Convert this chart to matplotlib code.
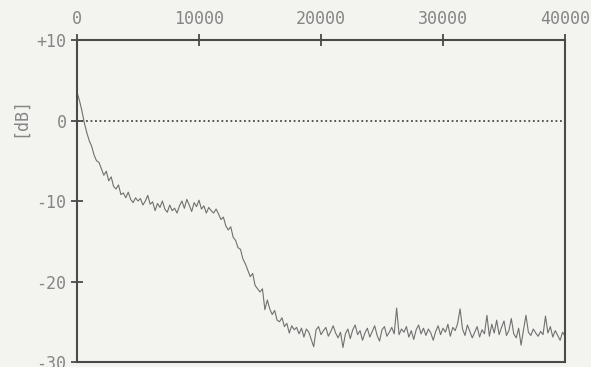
import matplotlib.pyplot as plt
import numpy as np

# frequency response, one value every 200 Hz from 0 to 40000
freq_step = 200
freq_max = 40000
level_db = [
    3.5, 2.5, 1.2, -0.3, -1.5, -2.5, -3.2, -4.3, -5.0, -5.2,
    -6.0, -6.8, -6.3, -7.5, -7.0, -8.2, -8.5, -8.0, -9.2, -9.0,
    -9.6, -8.9, -9.8, -10.2, -9.6, -10.0, -9.7, -10.5, -10.0, -9.3,
    -10.4, -10.1, -11.2, -10.3, -10.8, -10.0, -11.0, -11.4, -10.5, -11.2,
    -10.9, -11.5, -10.6, -10.0, -10.9, -9.8, -10.5, -11.3, -10.2, -10.7,
    -9.9, -11.0, -10.6, -11.5, -10.8, -11.2, -11.5, -11.0, -11.6, -12.3,
    -12.0, -13.1, -13.6, -13.2, -14.5, -14.9, -15.8, -16.0, -17.2, -17.8,
    -18.6, -19.4, -19.0, -20.5, -20.9, -21.3, -20.9, -23.5, -22.3, -23.4,
    -24.1, -23.6, -24.8, -25.0, -24.5, -25.6, -25.2, -26.4, -25.5, -26.0,
    -25.7, -26.5, -25.8, -26.9, -25.9, -26.3, -27.2, -28.1, -26.0, -25.6,
    -26.6, -26.1, -25.7, -26.8, -26.2, -25.5, -26.4, -27.0, -26.3, -28.2,
    -26.5, -25.9, -27.1, -26.0, -25.4, -26.6, -26.1, -27.3, -26.4, -25.8,
    -26.9, -26.2, -25.5, -26.7, -27.4, -26.0, -25.6, -26.8, -26.3, -25.7,
    -26.5, -23.3, -26.6, -25.9, -26.3, -25.6, -26.9, -26.1, -27.2, -26.0,
    -25.4, -26.5, -25.8, -26.7, -25.9, -26.4, -27.3, -26.2, -25.5, -26.6,
    -25.8, -26.3, -25.3, -26.8, -25.7, -26.1, -25.2, -23.4, -25.9, -26.7,
    -25.4, -26.2, -27.0, -26.3, -25.6, -26.9, -26.0, -26.5, -24.2, -26.8,
    -25.3, -26.4, -24.8, -26.6, -25.7, -24.9, -26.7, -26.1, -24.6, -26.5,
    -27.0, -25.8, -27.9, -26.0, -24.2, -26.3, -26.7, -25.9, -26.4, -26.8,
    -26.2, -26.6, -24.3, -26.4, -25.6, -26.9, -26.1, -26.7, -27.3, -26.3,
    -26.8,
]
x_ticks = [0, 10000, 20000, 30000, 40000]
y_ticks = [10, 0, -10, -20, -30]
y_tick_labels = ["+10", "0", "-10", "-20", "-30"]

freq = np.arange(0, freq_max + 1, freq_step)

paper = '#f3f3f0'
ink = '#4a4a4a'
label_grey = '#858585'

fig = plt.figure(figsize=(5.91, 3.67), dpi=100, facecolor=paper)
ax = fig.add_axes([0.1303, 0.0136, 0.8257, 0.8774], facecolor=paper)

ax.plot(freq, level_db, color='#707070', lw=0.8)
ax.axhline(0, color=ink, lw=1.3, ls=(0, (1, 1.5)))

ax.set_xlim(0, freq_max)
ax.set_ylim(-30, 10)

ax.xaxis.tick_top()
ax.set_xticks(x_ticks)
ax.set_xticklabels([str(t) for t in x_ticks])
ax.set_yticks(y_ticks)
ax.set_yticklabels(y_tick_labels)

mono = 'DejaVu Sans Mono'
for lab in ax.get_xticklabels() + ax.get_yticklabels():
    lab.set_fontfamily(mono)
    lab.set_fontsize(12)
    lab.set_color(label_grey)

ax.tick_params(axis='x', which='both', top=True, bottom=False, direction='inout',
               length=9, width=1.3, color=ink, pad=4)
ax.tick_params(axis='y', which='both', left=True, right=False, direction='inout',
               length=9, width=1.3, color=ink, pad=3)

for side in ['left', 'right', 'top', 'bottom']:
    ax.spines[side].set_color(ink)
    ax.spines[side].set_linewidth(1.5)

ax.set_ylabel('[dB]', fontfamily=mono, fontsize=12, color=label_grey, labelpad=8)
ax.yaxis.set_label_coords(-0.098, 0.76)

fig.savefig('out.png', dpi=100, facecolor=paper)
